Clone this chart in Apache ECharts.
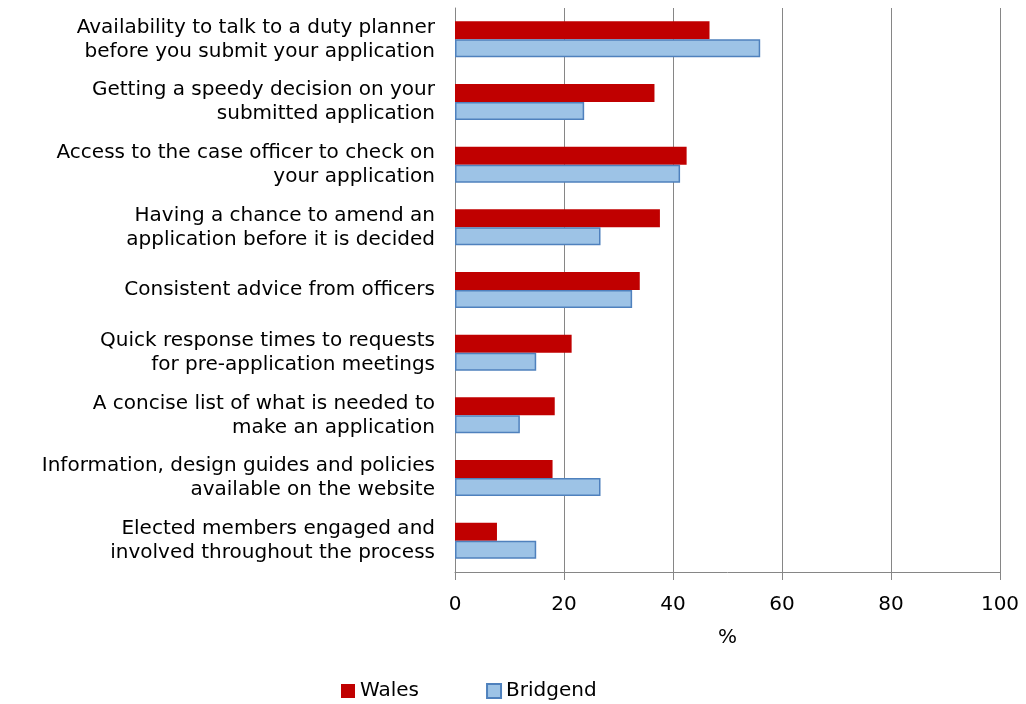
<!DOCTYPE html>
<html>
<head>
<meta charset="utf-8">
<script src="https://cdn.jsdelivr.net/npm/echarts@6/dist/echarts.min.js"></script>
<style>
  html, body { margin: 0; padding: 0; background: #fff; }
  #chart { width: 1026px; height: 704px; }
</style>
</head>
<body>
<div id="chart"></div>
<script>
// Survey items (top to bottom)
const categories = [
  'Availability to talk to a duty planner\nbefore you submit your application',
  'Getting a speedy decision on your\nsubmitted application',
  'Access to the case officer to check on\nyour application',
  'Having a chance to amend an\napplication before it is decided',
  'Consistent advice from officers',
  'Quick response times to requests\nfor pre-application meetings',
  'A concise list of what is needed to\nmake an application',
  'Information, design guides and policies\navailable on the website',
  'Elected members engaged and\ninvolved throughout the process'
];

// Percentage of respondents
const walesValues    = [46.7, 36.6, 42.5, 37.6, 33.9, 21.4, 18.3, 17.9, 7.7];
const bridgendValues = [56.0, 23.7, 41.3, 26.7, 32.5, 14.9, 11.9, 26.7, 14.9];

const xTicks = { min: 0, max: 100, interval: 20 };

const FONT = '"DejaVu Sans", Verdana, sans-serif';
const FONT_SIZE = 20;
const GRID_GREY = '#868686';

const chart = echarts.init(document.getElementById('chart'), null, { renderer: 'canvas' });

chart.setOption({
  animation: false,
  textStyle: { fontFamily: FONT, color: '#000' },
  grid: { left: 455, right: 26, top: 8, bottom: 132, containLabel: false },
  legend: {
    left: 336,
    top: 676,
    itemWidth: 14,
    itemHeight: 14,
    itemGap: 67,
    icon: 'rect',
    textStyle: { fontFamily: FONT, fontSize: FONT_SIZE, color: '#000' },
    data: ['Wales', 'Bridgend']
  },
  xAxis: {
    type: 'value',
    min: xTicks.min,
    max: xTicks.max,
    interval: xTicks.interval,
    name: '%',
    nameLocation: 'middle',
    nameGap: 56,
    nameTextStyle: { fontFamily: FONT, fontSize: FONT_SIZE, color: '#000' },
    axisLine: { show: true, lineStyle: { color: GRID_GREY, width: 1 } },
    axisTick: { show: true, length: 8, lineStyle: { color: GRID_GREY } },
    axisLabel: { fontFamily: FONT, fontSize: FONT_SIZE, color: '#000', margin: 23 },
    splitLine: { show: true, lineStyle: { color: GRID_GREY, width: 1 } }
  },
  yAxis: {
    type: 'category',
    inverse: true,
    data: categories,
    axisLine: { show: true, lineStyle: { color: GRID_GREY, width: 1 } },
    axisTick: { show: false },
    axisLabel: {
      fontFamily: FONT,
      fontSize: FONT_SIZE,
      color: '#000',
      margin: 20,
      lineHeight: 24,
      align: 'right'
    }
  },
  series: [
    {
      name: 'Wales',
      type: 'bar',
      data: walesValues,
      barWidth: 18,
      barGap: '0%',
      itemStyle: { color: '#C00000' }
    },
    {
      name: 'Bridgend',
      type: 'bar',
      data: bridgendValues,
      barWidth: 18,
      barGap: '0%',
      itemStyle: { color: '#9DC3E6', borderColor: '#4F81BD', borderWidth: 1.5 }
    }
  ]
});
</script>
</body>
</html>
